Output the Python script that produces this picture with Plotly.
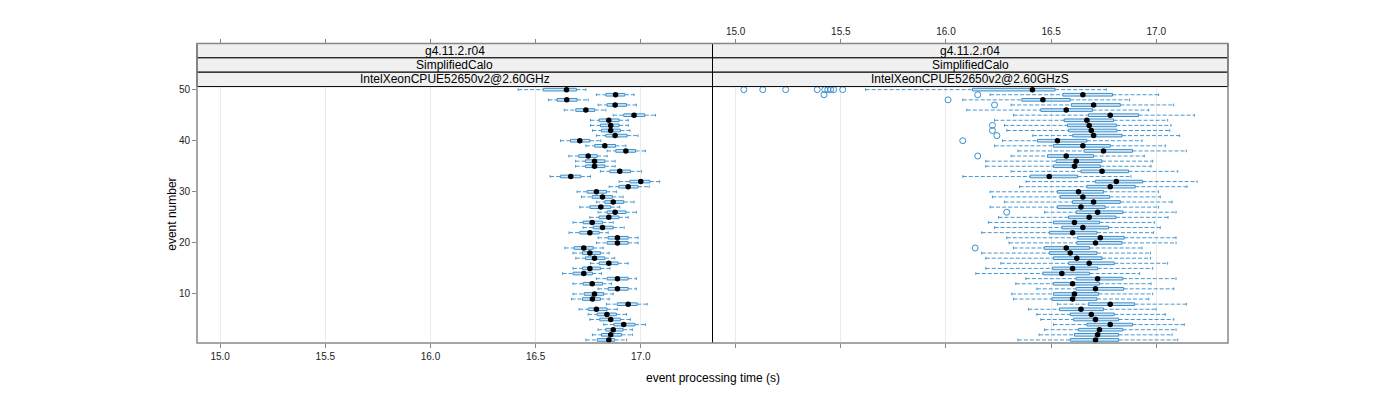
import plotly.graph_objects as go

W, H = 1400, 400

events = list(range(1, 51))

# ---- Left panel: IntelXeonCPUE52650v2@2.60GHz (event 1..50) ----
L_lw = [16.739, 16.770, 16.797, 16.824, 16.758, 16.750, 16.707, 16.837, 16.671, 16.678,
        16.797, 16.678, 16.789, 16.628, 16.678, 16.761, 16.691, 16.678, 16.639, 16.789,
        16.797, 16.659, 16.726, 16.678, 16.758, 16.797, 16.710, 16.789, 16.718, 16.697,
        16.850, 16.897, 16.569, 16.808, 16.690, 16.690, 16.658, 16.840, 16.739, 16.618,
        16.789, 16.770, 16.761, 16.761, 16.869, 16.636, 16.797, 16.561, 16.789, 16.417]
L_q1 = [16.793, 16.813, 16.834, 16.872, 16.805, 16.793, 16.750, 16.888, 16.723, 16.731,
        16.845, 16.726, 16.840, 16.678, 16.723, 16.802, 16.737, 16.723, 16.683, 16.840,
        16.845, 16.710, 16.774, 16.726, 16.802, 16.840, 16.758, 16.829, 16.769, 16.745,
        16.896, 16.948, 16.618, 16.853, 16.737, 16.737, 16.705, 16.881, 16.781, 16.666,
        16.834, 16.813, 16.808, 16.802, 16.919, 16.691, 16.840, 16.602, 16.834, 16.536]
L_med = [16.848, 16.857, 16.869, 16.919, 16.857, 16.839, 16.789, 16.940, 16.770, 16.780,
         16.889, 16.769, 16.889, 16.729, 16.758, 16.848, 16.780, 16.758, 16.729, 16.889,
         16.889, 16.758, 16.818, 16.769, 16.848, 16.878, 16.810, 16.869, 16.818, 16.789,
         16.940, 17.000, 16.667, 16.900, 16.780, 16.780, 16.750, 16.929, 16.829, 16.710,
         16.878, 16.857, 16.857, 16.848, 16.968, 16.739, 16.878, 16.648, 16.880, 16.647]
L_q3 = [16.876, 16.908, 16.916, 16.972, 16.903, 16.884, 16.840, 16.983, 16.808, 16.824,
        16.940, 16.818, 16.940, 16.770, 16.808, 16.892, 16.829, 16.808, 16.774, 16.940,
        16.940, 16.802, 16.869, 16.818, 16.896, 16.929, 16.857, 16.919, 16.865, 16.837,
        16.987, 17.043, 16.715, 16.951, 16.829, 16.829, 16.793, 16.975, 16.880, 16.758,
        16.935, 16.903, 16.897, 16.897, 17.019, 16.781, 16.932, 16.697, 16.924, 16.694]
L_uw = [16.932, 16.960, 16.960, 17.022, 16.951, 16.932, 16.888, 17.030, 16.850, 16.869,
        16.979, 16.861, 16.979, 16.813, 16.853, 16.940, 16.876, 16.850, 16.821, 16.987,
        16.987, 16.845, 16.921, 16.869, 16.940, 16.979, 16.900, 16.968, 16.916, 16.884,
        17.040, 17.090, 16.761, 17.003, 16.878, 16.878, 16.840, 17.022, 16.929, 16.810,
        16.987, 16.948, 16.941, 16.940, 17.070, 16.834, 16.979, 16.750, 16.968, 16.739]

# ---- Right panel: IntelXeonCPUE52650v2@2.60GHzS (event 1..50) ----
R_lw = [16.342, 16.443, 16.469, 16.511, 16.451, 16.432, 16.392, 16.530, 16.321, 16.313,
        16.432, 16.332, 16.380, 16.142, 16.189, 16.261, 16.189, 16.170, 16.321, 16.300,
        16.289, 16.170, 16.231, 16.202, 16.250, 16.469, 16.210, 16.278, 16.221, 16.210,
        16.350, 16.381, 16.080, 16.310, 16.189, 16.189, 16.310, 16.342, 16.231, 16.269,
        16.413, 16.289, 16.278, 16.231, 16.321, 16.099, 16.310, 16.080, 16.210, 15.618]
R_q1 = [16.591, 16.611, 16.630, 16.670, 16.607, 16.591, 16.540, 16.678, 16.504, 16.511,
        16.619, 16.511, 16.619, 16.461, 16.507, 16.583, 16.511, 16.492, 16.467, 16.622,
        16.626, 16.492, 16.551, 16.511, 16.583, 16.619, 16.530, 16.602, 16.543, 16.530,
        16.670, 16.710, 16.400, 16.642, 16.511, 16.523, 16.483, 16.657, 16.511, 16.435,
        16.603, 16.583, 16.578, 16.562, 16.678, 16.451, 16.596, 16.361, 16.556, 16.126]
R_med = [16.711, 16.721, 16.730, 16.781, 16.711, 16.691, 16.642, 16.781, 16.602, 16.611,
         16.711, 16.602, 16.721, 16.551, 16.602, 16.681, 16.622, 16.591, 16.572, 16.711,
         16.734, 16.602, 16.651, 16.611, 16.681, 16.721, 16.642, 16.702, 16.651, 16.630,
         16.781, 16.810, 16.491, 16.742, 16.611, 16.619, 16.572, 16.749, 16.651, 16.530,
         16.702, 16.691, 16.681, 16.670, 16.781, 16.572, 16.702, 16.461, 16.651, 16.411]
R_q3 = [16.821, 16.821, 16.841, 16.887, 16.821, 16.800, 16.749, 16.897, 16.718, 16.726,
        16.845, 16.730, 16.841, 16.683, 16.721, 16.800, 16.742, 16.718, 16.683, 16.837,
        16.848, 16.718, 16.773, 16.730, 16.808, 16.841, 16.757, 16.829, 16.778, 16.749,
        16.900, 16.935, 16.626, 16.868, 16.734, 16.742, 16.702, 16.887, 16.781, 16.670,
        16.837, 16.813, 16.810, 16.797, 16.916, 16.697, 16.829, 16.591, 16.792, 16.519]
R_uw = [17.102, 17.075, 17.094, 17.133, 17.083, 17.043, 16.999, 17.143, 16.964, 16.983,
        17.083, 16.975, 17.094, 16.921, 16.983, 17.054, 16.972, 16.972, 16.932, 17.094,
        17.094, 16.987, 17.019, 16.992, 17.056, 17.094, 17.011, 17.075, 17.019, 17.011,
        17.146, 17.194, 16.880, 17.102, 16.975, 16.983, 16.943, 17.143, 17.043, 16.932,
        17.111, 17.064, 17.070, 17.054, 17.181, 16.964, 17.083, 16.873, 17.011, 16.762]

# outliers (event, value) for the right panel
R_out_event = [50, 50, 50, 50, 50, 50, 50, 50, 50, 49, 49, 48, 47, 43, 42, 41, 40, 37, 26, 19]
R_out_value = [15.039, 15.129, 15.238, 15.388, 15.424, 15.438, 15.452, 15.466, 15.509,
               15.420, 16.151, 16.010, 16.231, 16.221, 16.221, 16.242, 16.080, 16.151, 16.289, 16.139]

x_ticks = [15.0, 15.5, 16.0, 16.5, 17.0]
x_tick_text = ["15.0", "15.5", "16.0", "16.5", "17.0"]
y_ticks = [10, 20, 30, 40, 50]

strip_rows = ["g4.11.2.r04", "SimplifiedCalo"]
panel_names = ["IntelXeonCPUE52650v2@2.60GHz", "IntelXeonCPUE52650v2@2.60GHzS"]

# ---- geometry (pixels) ----
PX_L, PX_M, PX_R = 197, 712.5, 1228
PY_T, PY_B = 85, 342.7
STRIP_TOP = 41.7
STRIP_H = (PY_T - STRIP_TOP) / 3

def px(x):
    return x / W

def py(y):
    return 1 - y / H

XR = [14.890, 17.341]
YR = [0.4, 50.6]

BOX_COL = "#3a8fcc"
WHISK_COL = "#4698d3"
FILL_COL = "rgba(175,212,240,0.55)"
BH = 0.26  # half box height in event units
CAP = 0.26

def panel_traces(lw, q1, med, q3, uw, xa, ya):
    wx, wy, cx, cy, bx, by = [], [], [], [], [], []
    for e, a, b, m, c, d in zip(events, lw, q1, med, q3, uw):
        wx += [a, b, None, c, d, None]
        wy += [e, e, None, e, e, None]
        cx += [a, a, None, d, d, None]
        cy += [e - CAP, e + CAP, None, e - CAP, e + CAP, None]
        bx += [b, c, c, b, b, None]
        by += [e - BH, e - BH, e + BH, e + BH, e - BH, None]
    return [
        go.Scatter(x=wx, y=wy, mode="lines", xaxis=xa, yaxis=ya, hoverinfo="skip",
                   line=dict(color=WHISK_COL, width=1, dash="4px,2px")),
        go.Scatter(x=cx, y=cy, mode="lines", xaxis=xa, yaxis=ya, hoverinfo="skip",
                   line=dict(color=WHISK_COL, width=1)),
        go.Scatter(x=bx, y=by, mode="lines", fill="toself", fillcolor=FILL_COL,
                   xaxis=xa, yaxis=ya, hoverinfo="skip",
                   line=dict(color=BOX_COL, width=1)),
        go.Scatter(x=med, y=events, mode="markers", xaxis=xa, yaxis=ya,
                   marker=dict(color="black", size=5.5, line=dict(width=0))),
    ]

fig = go.Figure()
for t in panel_traces(L_lw, L_q1, L_med, L_q3, L_uw, "x", "y"):
    fig.add_trace(t)
for t in panel_traces(R_lw, R_q1, R_med, R_q3, R_uw, "x2", "y2"):
    fig.add_trace(t)
fig.add_trace(go.Scatter(x=R_out_value, y=R_out_event, mode="markers", xaxis="x2", yaxis="y2",
                         marker=dict(symbol="circle-open", color=BOX_COL, size=6,
                                     line=dict(width=1))))

tickfont = dict(family="Liberation Sans, Arial, sans-serif", size=10, color="#222")
dom_y = [py(PY_B), py(PY_T)]
dom_l = [px(PX_L), px(PX_M)]
dom_r = [px(PX_M), px(PX_R)]

common_x = dict(range=XR, tickvals=x_ticks, ticktext=x_tick_text, ticks="outside",
                ticklen=4, tickcolor="#888", tickwidth=1, showline=False, zeroline=False,
                tickfont=tickfont, fixedrange=True)

fig.update_layout(
    width=W, height=H, autosize=False,
    margin=dict(l=0, r=0, t=0, b=0),
    paper_bgcolor="white", plot_bgcolor="white",
    showlegend=False,
    font=dict(family="Liberation Sans, Arial, sans-serif", color="#000"),
    xaxis=dict(domain=dom_l, anchor="y", showgrid=True, gridcolor="#ebebeb", gridwidth=1,
               side="bottom", showticklabels=True, **common_x),
    xaxis2=dict(domain=dom_r, anchor="y2", showgrid=True, gridcolor="#ebebeb", gridwidth=1,
                side="bottom", showticklabels=False, **common_x),
    xaxis3=dict(overlaying="x", anchor="free", position=py(STRIP_TOP), side="top",
                showgrid=False, showticklabels=False, **common_x),
    xaxis4=dict(overlaying="x2", anchor="free", position=py(STRIP_TOP), side="top",
                showgrid=False, showticklabels=True, **common_x),
    yaxis=dict(domain=dom_y, anchor="x", range=YR, tickvals=y_ticks, ticks="outside",
               ticklen=4, tickcolor="#888", showgrid=False, zeroline=False, showline=False,
               tickfont=tickfont, fixedrange=True),
    yaxis2=dict(domain=dom_y, anchor="x2", range=YR, showticklabels=False, ticks="",
                showgrid=False, zeroline=False, showline=False, fixedrange=True),
)
# dummy traces so the overlay axes are drawn
fig.add_trace(go.Scatter(x=[None], y=[None], xaxis="x3", yaxis="y", showlegend=False))
fig.add_trace(go.Scatter(x=[None], y=[None], xaxis="x4", yaxis="y2", showlegend=False))

shapes = []
annotations = []
# strips
for i, (x0, x1) in enumerate([(PX_L, PX_M), (PX_M, PX_R)]):
    labels = strip_rows + [panel_names[i]]
    for r, lab in enumerate(labels):
        y0 = STRIP_TOP + r * STRIP_H
        y1 = y0 + STRIP_H
        shapes.append(dict(type="rect", xref="paper", yref="paper",
                           x0=px(x0), x1=px(x1), y0=py(y1), y1=py(y0),
                           fillcolor="#f0f0f0", line=dict(color="#000", width=1), layer="above"))
        annotations.append(dict(text=lab, xref="paper", yref="paper",
                                x=px((x0 + x1) / 2), y=py((y0 + y1) / 2),
                                showarrow=False, xanchor="center", yanchor="middle",
                                font=dict(size=12, color="#000",
                                          family="Liberation Sans, Arial, sans-serif")))
# panel divider (black) and outer frame (grey)
shapes.append(dict(type="line", xref="paper", yref="paper", x0=px(PX_M), x1=px(PX_M),
                   y0=py(PY_B), y1=py(STRIP_TOP), line=dict(color="#000", width=1), layer="above"))
shapes.append(dict(type="rect", xref="paper", yref="paper", x0=px(PX_L), x1=px(PX_R),
                   y0=py(PY_B), y1=py(STRIP_TOP), line=dict(color="#888", width=1.5),
                   fillcolor="rgba(0,0,0,0)", layer="above"))

annotations.append(dict(text="event processing time (s)", xref="paper", yref="paper",
                        x=px(712.5), y=py(378), showarrow=False, xanchor="center",
                        yanchor="middle", font=dict(size=12, color="#000")))
annotations.append(dict(text="event number", xref="paper", yref="paper",
                        x=px(172), y=py((PY_T + PY_B) / 2), showarrow=False, textangle=-90,
                        xanchor="center", yanchor="middle", font=dict(size=12, color="#000")))

fig.update_layout(shapes=shapes, annotations=annotations)
fig.write_html("out.html")
